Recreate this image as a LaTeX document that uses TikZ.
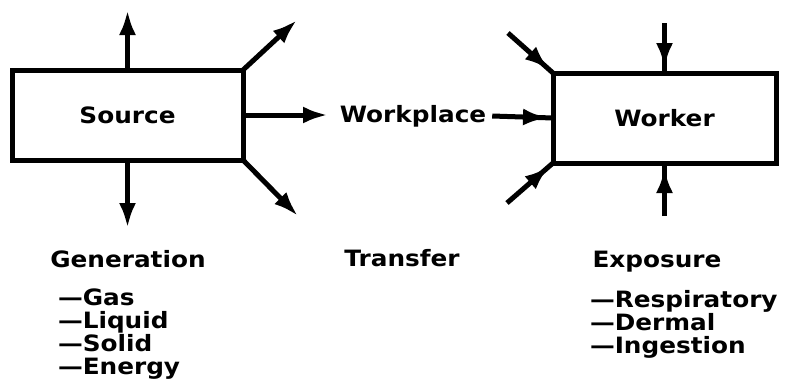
\documentclass[tikz,border=0pt]{standalone}
\usepackage{fontspec}
\newfontfamily\labfont{DejaVu Sans}[FakeStretch=1.1]
\usetikzlibrary{arrows.meta,decorations.markings}
\begin{document}
\begin{tikzpicture}[x=1pt,y=-1pt,
  every node/.style={font=\labfont\bfseries\fontsize{22.5}{23}\selectfont, inner sep=0pt, outer sep=0pt},
  box/.style={draw, line width=5pt, minimum height=90pt},
  flow/.style={line width=5pt, -{Latex[length=25pt,width=17pt]}},
  inflow/.style={line width=5pt, postaction={decorate},
    decoration={markings, mark=at position -5pt with {\arrow{Latex[length=25pt,width=17pt]}}}},
  listitem/.style={anchor=base west},
  heading/.style={anchor=base}
]
\path[use as bounding box] (0,0) rectangle (787,380);

% the two boxes
\node[box, minimum width=231pt] (source) at (127.5,115) {Source};
\node[box, minimum width=223pt] (worker) at (664.5,118) {Worker};
\node (workplace) at (413,116) {Workplace};

% free ends of the connectors
\coordinate (srcup)    at (127.5,10);
\coordinate (srcdown)  at (127.5,228);
\coordinate (srcne)    at (297,20);
\coordinate (srcse)    at (298,216);
\coordinate (srcright) at (328,115);
\coordinate (wkup)     at (664.5,23);
\coordinate (wkdown)   at (664.5,216);
\coordinate (wknw)     at (508,33);
\coordinate (wksw)     at (507,203);

% generation: arrows leaving the source
\draw[flow] (source.north) -- (srcup);
\draw[flow] (source.south) -- (srcdown);
\draw[flow] (source.north east) -- (srcne);
\draw[flow] (source.south east) -- (srcse);
\draw[flow] (source.east) -- (srcright);

% exposure: arrows entering the worker
\draw[inflow] (wkup) -- (worker.north);
\draw[inflow] (wkdown) -- (worker.south);
\draw[inflow] (wknw) -- (worker.north west);
\draw[inflow] (wksw) -- (worker.south west);
\draw[inflow] (workplace.east) ++(6,0) coordinate (wpend) (wpend) -- (worker.west);

% headings
\node[heading] (generation) at (128,267) {Generation};
\node[heading] (transfer)   at (402,266) {Transfer};
\node[heading] (exposure)   at (657,267) {Exposure};

% lists
\node[listitem] (gas)    at (58,305) {—Gas};
\node[listitem] (liquid) at (58,328) {—Liquid};
\node[listitem] (solid)  at (58,351) {—Solid};
\node[listitem] (energy) at (58,374) {—Energy};

\node[listitem] (resp)   at (590,307) {—Respiratory};
\node[listitem] (dermal) at (590,330) {—Dermal};
\node[listitem] (ingest) at (590,353) {—Ingestion};
\end{tikzpicture}
\end{document}
